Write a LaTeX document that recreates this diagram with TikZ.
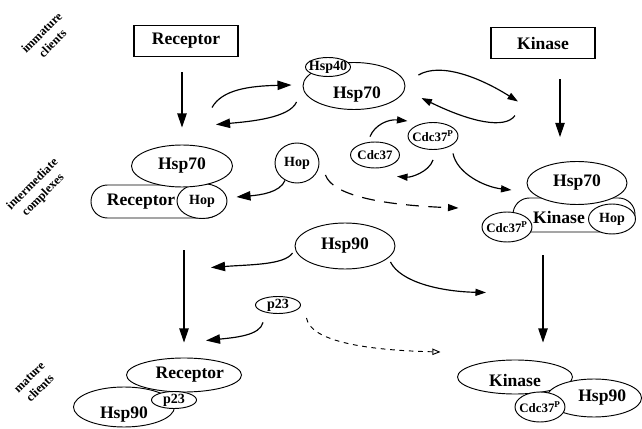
\documentclass[tikz,border=0pt]{standalone}
\usepackage{fontspec}
\setmainfont{Liberation Serif}
\usetikzlibrary{arrows.meta,calc,shapes.geometric}

\begin{document}
\begin{tikzpicture}[x=0.03cm,y=-0.03cm,
    prot/.style={draw,ellipse,fill=white,inner sep=0pt,line width=0.8pt},
    capsule/.style={draw,rectangle,fill=white,rounded corners=14pt,inner sep=0pt,line width=0.8pt},
    clientbox/.style={draw,rectangle,line width=1pt,minimum width=3.12cm,minimum height=0.93cm,
      font=\fontsize{15}{17}\selectfont\bfseries},
    bigtxt/.style={font=\fontsize{15}{17}\selectfont\bfseries},
    smalltxt/.style={font=\fontsize{12}{14}\selectfont\bfseries},
    cdctxt/.style={font=\fontsize{11}{13}\selectfont\bfseries},
    stage/.style={rotate=45,align=center,font=\fontsize{10.5}{13}\selectfont\bfseries},
    flow/.style={line width=1pt,-{Triangle[length=12pt,width=8pt]}},
    turn/.style={line width=1pt,-{Triangle[length=9pt,width=6pt]}},
    dashflow/.style={turn,dash pattern=on 11pt off 8pt},
    dotflow/.style={line width=0.8pt,dash pattern=on 4pt off 4pt,-{Triangle[open,length=7pt,width=5.5pt]}}]
  \useasboundingbox (0,0) rectangle (642,429);

  \node[stage] (lbimm) at (47,38) {immature\\clients};
  \node[stage] (lbint) at (38,190) {intermediate\\complexes};
  \node[stage] (lbmat) at (35,383) {mature\\clients};

  \node[clientbox] (recbox) at (186,41) {Receptor};
  \node[clientbox] (kinbox) at (543,43) {Kinase};

  \node[prot,minimum width=3.06cm,minimum height=1.41cm,
    label={[bigtxt,xshift=2.5pt,yshift=-7.5pt]center:Hsp70}] (hsp70) at (354,86) {};
  \node[prot,minimum width=1.35cm,minimum height=0.57cm,
    label={[smalltxt]center:Hsp40}] (hsp40) at (328,67) {};

  \node[capsule,minimum width=3.96cm,minimum height=0.99cm,
    label={[bigtxt,xshift=-13.6pt]center:Receptor}] (rcap) at (157,201.5) {};
  \node[prot,minimum width=1.5cm,minimum height=1.05cm,
    label={[smalltxt]center:Hop}] (rhop) at (202,201) {};
  \node[prot,minimum width=3.03cm,minimum height=1.26cm,
    label={[bigtxt]center:Hsp70}] (rhsp70) at (182,166) {};

  \node[prot,minimum width=1.32cm,minimum height=1.2cm,
    label={[smalltxt]center:Hop}] (hop) at (297,163) {};
  \node[prot,minimum width=1.47cm,minimum height=0.78cm,
    label={[cdctxt]center:Cdc37}] (cdc) at (375,155) {};
  \node[prot,minimum width=1.5cm,minimum height=0.81cm,
    label={[cdctxt]center:Cdc37\textsuperscript{P}}] (cdcp) at (433,136) {};

  \node[capsule,minimum width=3.66cm,minimum height=1.02cm,
    label={[bigtxt,xshift=-12.8pt,yshift=-2.5pt]center:Kinase}] (kcap) at (574,215) {};
  \node[prot,minimum width=1.41cm,minimum height=0.9cm,
    label={[smalltxt]center:Hop}] (khop) at (612,219) {};
  \node[prot,minimum width=3.0cm,minimum height=1.29cm,
    label={[bigtxt]center:Hsp70}] (khsp70) at (577,183) {};
  \node[prot,minimum width=1.5cm,minimum height=0.9cm,
    label={[cdctxt]center:Cdc37\textsuperscript{P}}] (kcdcp) at (507,227) {};

  \node[prot,minimum width=3.0cm,minimum height=1.38cm,
    label={[bigtxt]center:Hsp90}] (hsp90) at (345,246) {};
  \node[prot,minimum width=1.35cm,minimum height=0.51cm,
    label={[smalltxt]center:p23}] (p23) at (278,305) {};

  \node[prot,minimum width=3.45cm,minimum height=1.02cm,
    label={[bigtxt,xshift=5pt]center:Receptor}] (mrec) at (184,375) {};
  \node[prot,minimum width=3.03cm,minimum height=1.2cm,
    label={[bigtxt,yshift=-6.5pt]center:Hsp90}] (mhsp90) at (124,407) {};
  \node[prot,minimum width=1.35cm,minimum height=0.51cm,
    label={[smalltxt]center:p23}] (mp23) at (174,400) {};

  \node[prot,minimum width=3.45cm,minimum height=1.02cm,
    label={[bigtxt,yshift=-3pt]center:Kinase}] (mkin) at (515,377) {};
  \node[prot,minimum width=2.85cm,minimum height=1.14cm,
    label={[bigtxt,xshift=7pt]center:Hsp90}] (mhsp90k) at (594,398) {};
  \node[prot,minimum width=1.5cm,minimum height=0.9cm,
    label={[cdctxt]center:Cdc37\textsuperscript{P}}] (mcdcp) at (540,407) {};

  \draw[flow] ($(recbox.south -| rhsp70.north)+(0,15)$) -- ($(rhsp70.north)+(0,-17)$);
  \draw[flow] ($(kinbox.south)+(17,20)$) -- ($(khsp70.north)+(-17,-24)$);
  \draw[flow] ($(rcap.south -| mrec.north)+(0,32)$) -- ($(mrec.north)+(0,-15)$);
  \draw[flow] ($(kcap.south -| mkin.north)+(28,23)$) -- ($(mkin.north)+(28,-17)$);

  \draw[flow] ($(rhsp70.north)+(30,-37)$) .. controls +(10,-18) and +(-42,1) .. ($(hsp70.west)+(-11,-1)$);
  \draw[flow] ($(hsp70.west)+(-6,16)$) .. controls +(-7,16) and +(34,-3) .. ($(rhsp70.north)+(34,-20)$);
  \draw[turn] ($(hsp70.east)+(13,-11)$) .. controls +(22,-13) and +(-38,-24) .. ($(khsp70.north)+(-59,-59.5)$);
  \draw[turn] ($(khsp70.north)+(-62,-45.5)$) .. controls +(-10,14) and +(49,24) .. ($(hsp70.east)+(16,12)$);

  \draw[flow] ($(hop.south)+(-12,-3)$) .. controls +(-5,12) and +(24,-2) .. ($(rhop.east)+(9,-4)$);
  \draw[dashflow] ($(hop.east)+(6,12)$) .. controls +(7,20) and +(-79,-3) .. ($(kcap.west)+(-54,-7)$);
  \draw[turn] ($(cdc.north)+(-5,-5)$) .. controls +(5,-12) and +(-19,-2) .. ($(cdcp.west)+(0,-15)$);
  \draw[turn] ($(cdcp.south)+(0,10)$) .. controls +(-4,12) and +(14,1) .. ($(cdc.south)+(22,8)$);
  \draw[turn] ($(cdcp.south)+(20,3.5)$) .. controls +(4,20) and +(-27,-3) .. ($(khsp70.west)+(-15,7)$);

  \draw[flow] ($(hsp90.west)+(-2,7)$) .. controls +(-8,12) and +(39,-3) .. ($(mrec.north)+(27,-90)$);
  \draw[turn] ($(hsp90.east)+(-5,16)$) .. controls +(10,20) and +(-46,-1) .. ($(mkin.north)+(-29,-67)$);
  \draw[flow] ($(p23.south)+(-15,8.5)$) .. controls +(-3,13) and +(29,-3) .. ($(mrec.north)+(22,-17)$);
  \draw[dotflow] ($(p23.east)+(5.5,13)$) .. controls +(4,22) and +(-81,-2) .. ($(mkin.west)+(-16.5,-25)$);
\end{tikzpicture}
\end{document}
